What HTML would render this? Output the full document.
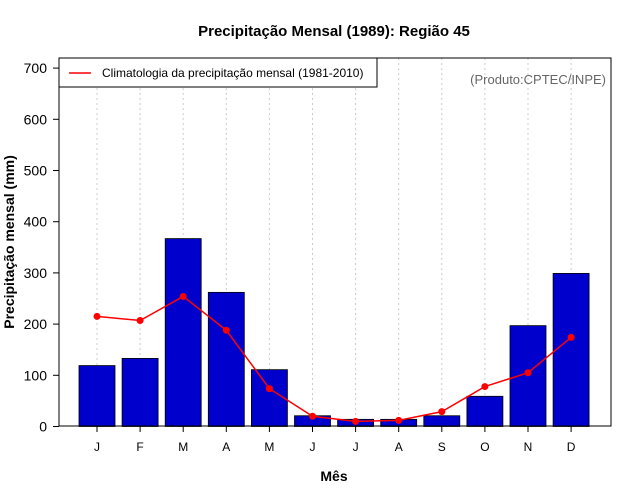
<!DOCTYPE html>
<html><head><meta charset="utf-8"><style>
body{margin:0;background:#fff;}
svg{display:block;font-family:"Liberation Sans",sans-serif;}
</style></head><body>
<svg id="c" width="640" height="500" viewBox="0 0 640 500">
<text x="334" y="36" text-anchor="middle" font-size="15" font-weight="bold">Precipitação Mensal (1989): Região 45</text>
<text x="334" y="481" text-anchor="middle" font-size="14" font-weight="bold">Mês</text>
<text transform="translate(14,242) rotate(-90)" text-anchor="middle" font-size="14" font-weight="bold">Precipitação mensal (mm)</text>
<g id="grid"></g><g id="bars"></g><g id="line"></g><g id="axes"></g>
<rect x="59" y="58" width="552" height="368" fill="none" stroke="#000"/>
<g>
<rect x="59" y="58" width="318" height="29" fill="#fff" stroke="#000"/>
<line x1="69" y1="73" x2="91" y2="73" stroke="#f00" stroke-width="1.5"/>
<text x="102" y="77" font-size="12">Climatologia da precipitação mensal (1981-2010)</text>
</g>
<text x="606" y="84" text-anchor="end" font-size="13" fill="#666">(Produto:CPTEC/INPE)</text>
</svg>
<script>
const months=["J","F","M","A","M","J","J","A","S","O","N","D"];
const rain1989=[119,133,367,262,111,21,14,14,21,59,197,299];
const climatology=[215,207,254,188,74,20,10,12,29,78,105,174];
const yTicks=[0,100,200,300,400,500,600,700];
const NS="http://www.w3.org/2000/svg";
const xs=i=>97+i*43.1;
const ys=v=>426.5-v*0.512;
function mk(t,a,p){const e=document.createElementNS(NS,t);for(const k in a)e.setAttribute(k,a[k]);p.appendChild(e);return e;}
const G=document.getElementById('grid'),B=document.getElementById('bars'),L=document.getElementById('line'),A=document.getElementById('axes');
months.forEach((m,i)=>{
 const g=mk('line',{x1:xs(i),x2:xs(i),y1:58,y2:426,stroke:'#ccc','stroke-dasharray':'2,3'},G);
 
 
 const r=mk('rect',{x:xs(i)-18,y:ys(rain1989[i]),width:36,height:ys(0)-ys(rain1989[i]),fill:'#0000cd',stroke:'#000','stroke-width':0.8},B);
 
 
 const t=mk('line',{x1:xs(i),x2:xs(i),y1:426,y2:432,stroke:'#000'},A);
 
 
 const lb=mk('text',{x:xs(i),y:451,'text-anchor':'middle','font-size':12},A);
 lb.textContent=m;
 
 
});
const pl=mk('polyline',{points:climatology.map((v,i)=>xs(i)+','+ys(v)).join(' '),fill:'none',stroke:'#f00','stroke-width':1.5},L);


climatology.forEach((v,i)=>{
 const c=mk('circle',{cx:xs(i),cy:ys(v),r:3.5,fill:'#f00'},L);
 
 
});
yTicks.forEach(v=>{
 const t=mk('line',{x1:53,x2:59,y1:ys(v),y2:ys(v),stroke:'#000'},A);
 
 
 const lb=mk('text',{x:47,y:ys(v)+5,'text-anchor':'end','font-size':14},A);
 lb.textContent=v;
 
 
});
</script>
</body></html>
